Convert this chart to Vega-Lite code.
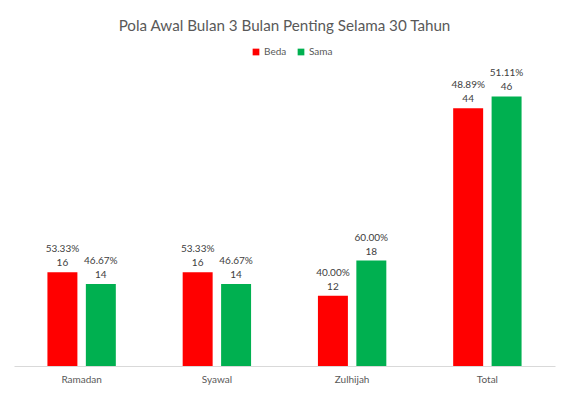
{
  "$schema": "https://vega.github.io/schema/vega-lite/v6.json",
  "autosize": "none",
  "width": 541,
  "height": 293,
  "padding": {"left": 14, "top": 73, "right": 14, "bottom": 30},
  "background": "white",
  "title": {
    "text": "Pola Awal Bulan 3 Bulan Penting Selama 30 Tahun",
    "font": "Lato",
    "fontSize": 15.2,
    "fontWeight": "normal",
    "color": "#595959",
    "anchor": "middle",
    "offset": 13
  },
  "data": {
    "values": [
      {"bulan": "Ramadan", "seri": "Beda", "jumlah": 16, "persen": "53.33%"},
      {"bulan": "Ramadan", "seri": "Sama", "jumlah": 14, "persen": "46.67%"},
      {"bulan": "Syawal", "seri": "Beda", "jumlah": 16, "persen": "53.33%"},
      {"bulan": "Syawal", "seri": "Sama", "jumlah": 14, "persen": "46.67%"},
      {"bulan": "Zulhijah", "seri": "Beda", "jumlah": 12, "persen": "40.00%"},
      {"bulan": "Zulhijah", "seri": "Sama", "jumlah": 18, "persen": "60.00%"},
      {"bulan": "Total", "seri": "Beda", "jumlah": 44, "persen": "48.89%"},
      {"bulan": "Total", "seri": "Sama", "jumlah": 46, "persen": "51.11%"}
    ]
  },
  "encoding": {
    "x": {
      "field": "bulan",
      "type": "nominal",
      "sort": ["Ramadan", "Syawal", "Zulhijah", "Total"],
      "scale": {"paddingInner": 0, "paddingOuter": 0},
      "axis": {
        "title": null,
        "labelAngle": 0,
        "ticks": false,
        "domainColor": "#d9d9d9",
        "labelColor": "#595959",
        "labelFont": "Lato",
        "labelFontSize": 10,
        "labelPadding": 8
      }
    },
    "xOffset": {
      "field": "seri",
      "type": "nominal",
      "scale": {"paddingInner": 0.22, "paddingOuter": 0.87}
    },
    "y": {
      "field": "jumlah",
      "type": "quantitative",
      "scale": {"domain": [0, 50]},
      "axis": null
    }
  },
  "layer": [
    {
      "mark": {"type": "bar"},
      "encoding": {
        "color": {
          "field": "seri",
          "type": "nominal",
          "scale": {"domain": ["Beda", "Sama"], "range": ["#ff0000", "#00b050"]},
          "legend": {
            "title": null,
            "orient": "none",
            "legendX": 237,
            "legendY": -26,
            "direction": "horizontal",
            "symbolType": "square",
            "symbolSize": 45,
            "symbolStrokeWidth": 0,
            "labelFont": "Lato",
            "labelFontSize": 10,
            "labelColor": "#595959",
            "labelOffset": 3,
            "columnPadding": 9
          }
        }
      }
    },
    {
      "mark": {"type": "text", "baseline": "bottom", "dy": -4, "font": "Lato", "fontSize": 10, "color": "#404040"},
      "encoding": {"text": {"field": "jumlah", "type": "quantitative"}}
    },
    {
      "mark": {"type": "text", "baseline": "bottom", "dy": -18, "font": "Lato", "fontSize": 10, "color": "#404040"},
      "encoding": {"text": {"field": "persen", "type": "nominal"}}
    }
  ],
  "config": {
    "view": {"stroke": null}
  }
}
